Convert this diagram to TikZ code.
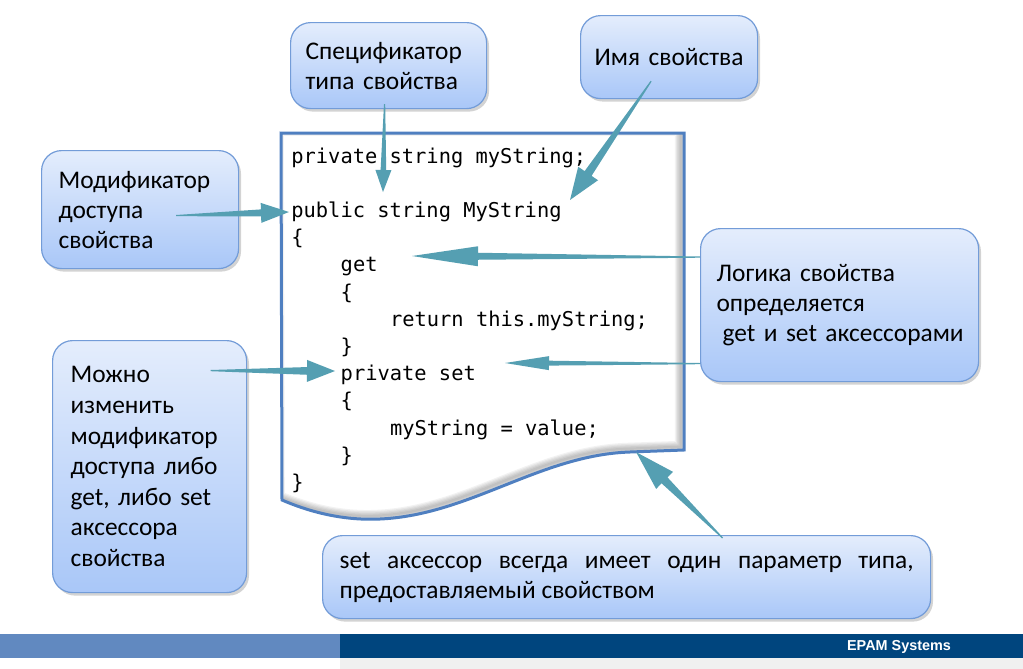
\documentclass[tikz,border=0pt]{standalone}
\usepackage{fontspec}
\usepackage{tikz}
\usetikzlibrary{calc,shadows}
\newfontfamily\calibri{Carlito}
\newfontfamily\consola{DejaVu Sans Mono}
\newfontfamily\arialb{Liberation Sans}
\definecolor{cteal}{HTML}{559FB2}
\definecolor{cmarco}{HTML}{4F7FC0}
\definecolor{cbordecaja}{HTML}{739CD8}
\definecolor{ccajaarriba}{HTML}{E4EDFC}
\definecolor{ccajaabajo}{HTML}{A9C7F8}
\definecolor{cpieclaro}{HTML}{6189C0}
\definecolor{cpieoscuro}{HTML}{00457E}
\definecolor{cpiegris}{HTML}{F0F0F0}

\tikzset{
  caja/.style={draw=cbordecaja, line width=0.6pt, rounded corners=10pt,
    top color=ccajaarriba, bottom color=ccajaabajo,
    drop shadow={shadow xshift=1.2pt, shadow yshift=-1.5pt, opacity=0.35},
    anchor=north west, inner sep=0pt, align=left,
    font=\calibri\fontsize{12.7}{15}\selectfont},
  codigo/.style={anchor=base west, inner sep=0pt, font=\consola\fontsize{10.2}{12}\selectfont}
}

% tapered arrow: from, to, head length (pt), head half width (pt)
\newcommand\taperarrow[4]{%
  \path let \p1=($(#2)-(#1)$) in \pgfextra{%
    \pgfmathsetmacro\arang{atan2(\y1,\x1)}%
    \pgfmathsetmacro\arlen{veclen(\x1,\y1)}%
    \xdef\arang{\arang}\xdef\arlen{\arlen}};
  \fill[cteal, shift={(#1)}, rotate=\arang]
    (0pt,-0.3pt) -- ({\arlen pt-#3pt},{-0.35*#4pt}) -- ({\arlen pt-#3pt},{-#4pt})
    -- ({\arlen pt},0pt) -- ({\arlen pt-#3pt},{#4pt}) -- ({\arlen pt-#3pt},{0.35*#4pt})
    -- (0pt,0.3pt) -- cycle;}

\newcommand\docpath{(281,133) -- (684,133) -- (684,450) -- (630,452)
  .. controls (540,455) and (470,515) .. (380,519)
  .. controls (340,521) and (305,510) .. (282,500) -- cycle}

\begin{document}
\begin{tikzpicture}[x=0.5pt, y=-0.5pt]
  \useasboundingbox (0,0) rectangle (1023,669);

  % footer
  \fill[cpieclaro] (0,634) rectangle (340,658);
  \fill[cpieoscuro] (340,634) rectangle (1023,658);
  \fill[cpiegris] (340,658) rectangle (1023,669);
  \node[text=white, font=\arialb\bfseries\fontsize{7.2}{8}\selectfont] (epam) at (899,647) {EPAM Systems};

  % code sheet
  \fill[white] \docpath;
  \begin{scope}
    \clip \docpath;
    \foreach \k in {1,...,5}
      \draw[black, opacity=0.05, line width=\k*1.2pt, xshift=-1.6pt, yshift=1.6pt] \docpath;
  \end{scope}
  \draw[cmarco, line width=1.5pt] \docpath;

  \foreach \sangria/\linea [count=\i] in {0/{private string myString;}, 0/{}, 0/{public string MyString},
      0/\{, 4/get, 4/\{, 8/{return this.myString;}, 4/\}, 4/{private set}, 4/\{,
      8/{myString = value;}, 4/\}, 0/\}}
    \node[codigo] (c\i) at (291+12.33*\sangria, 163+27.2*\i-27.2) {\linea};

  % callouts
  \node[caja, minimum width=98pt, minimum height=43pt, text width=83pt] (spec) at (290,22) {Спецификатор\\типа свойства};
  \node[caja, align=center, minimum width=88.5pt, minimum height=41.5pt, text width=80pt] (nombre) at (580,15) {Имя свойства};
  \node[caja, minimum width=98.5pt, minimum height=59pt, text width=81.5pt] (modif) at (41,150) {Модификатор\\доступа\\свойства};
  \node[caja, minimum width=97pt, minimum height=126pt, text width=79pt,
    font=\calibri\fontsize{12.7}{15.3}\selectfont] (cambio) at (52,340)
    {Можно\\изменить\\модификатор\\доступа либо\\get, либо set\\аксессора\\свойства};
  \node[caja, minimum width=139pt, minimum height=76.5pt, text width=123pt] (logica) at (700,228)
    {Логика свойства\\определяется\\\mbox{\hspace*{3pt}get и set аксессорами}};
  \node[caja, align=justify, minimum width=304pt, minimum height=41.5pt, text width=287pt] (setacc) at (322,535)
    {set аксессор всегда имеет один параметр типа, предоставляемый свойством};

  % arrow ends
  \coordinate (t1) at ($(spec.south)+(-4,-5)$);      \coordinate (p1) at (383,192);
  \coordinate (t2) at ($(nombre.south)+(-18,-18)$);  \coordinate (p2) at (570,200);
  \coordinate (t3) at ($(modif.center)+(36,6)$);     \coordinate (p3) at (289,212);
  \coordinate (t4) at ($(logica.west)+(0,-48)$);     \coordinate (p4) at (412,256);
  \coordinate (t5) at ($(logica.west)+(0,58.5)$);    \coordinate (p5) at (505,363);
  \coordinate (t6) at ($(cambio.center)+(61,-96)$);  \coordinate (p6) at (335,371);
  \coordinate (t7) at ($(setacc.north)+(96,3)$);     \coordinate (p7) at (636,452);

  \taperarrow{t1}{p1}{11}{4}
  \taperarrow{t2}{p2}{16}{6}
  \taperarrow{t3}{p3}{14}{5}
  \taperarrow{t4}{p4}{33}{5}
  \taperarrow{t5}{p5}{22}{3.5}
  \taperarrow{t6}{p6}{14}{5.5}
  \taperarrow{t7}{p7}{20}{6}
\end{tikzpicture}
\end{document}
